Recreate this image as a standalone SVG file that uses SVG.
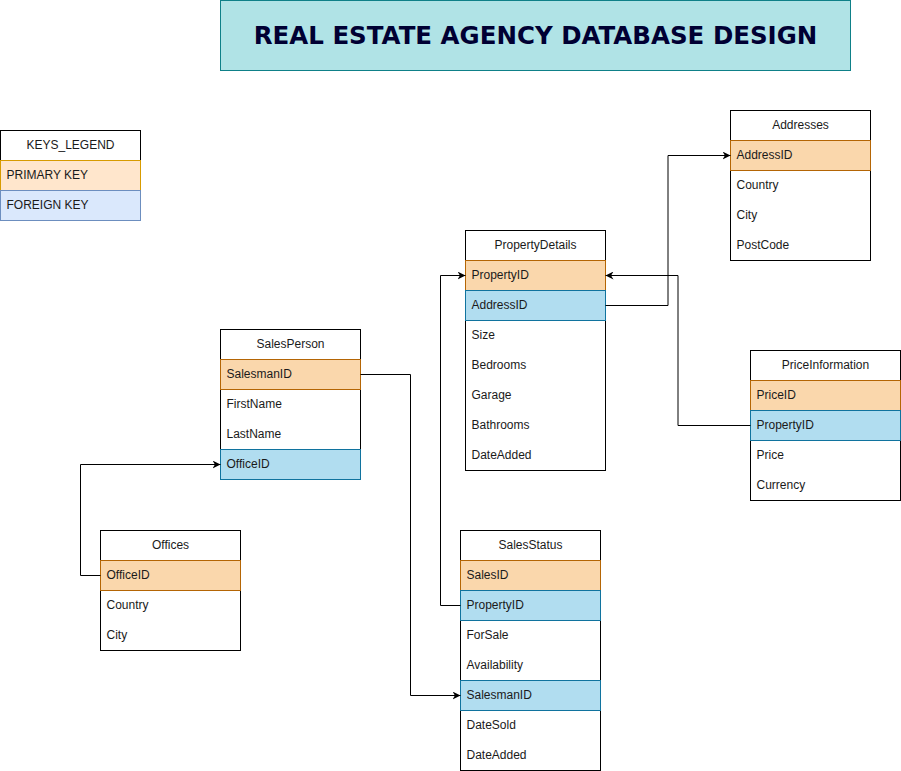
<svg xmlns="http://www.w3.org/2000/svg" width="901" height="771" viewBox="0 0 901 771">
<style>
.box{fill:#ffffff;stroke:#000000;stroke-width:1}
.pk{fill:#fad7ac;stroke:#b46504;stroke-width:1}
.fk{fill:#b1ddf0;stroke:#10739e;stroke-width:1}
.lpk{fill:#ffe6cc;stroke:#d79b00;stroke-width:1}
.lfk{fill:#dae8fc;stroke:#6c8ebf;stroke-width:1}
.hd{font-family:"Liberation Sans",Arial,sans-serif;font-size:12px;fill:#1a1a1a;text-anchor:middle}
.tx{font-family:"Liberation Sans",Arial,sans-serif;font-size:12px;fill:#1a1a1a}
.ln{fill:none;stroke:#000000;stroke-width:1}
.title{font-family:"DejaVu Sans",Verdana,sans-serif;font-size:24.5px;font-weight:bold;fill:#000033;text-anchor:middle}
</style>
<defs>
<marker id="arr" viewBox="0 0 10 10" refX="10" refY="5" markerWidth="8" markerHeight="8" markerUnits="userSpaceOnUse" orient="auto">
<path d="M0,0 L10,5 L0,10 L3,5 Z" fill="#000000"/>
</marker>
</defs>
<rect width="901" height="771" fill="#ffffff"/>

<g id="title">
<rect x="220.5" y="0.5" width="630" height="70" fill="#b0e3e6" stroke="#0e8088"/>
<text class="title" x="535.5" y="44">REAL ESTATE AGENCY DATABASE DESIGN</text>
</g>

<g id="keys_legend">
<rect class="box" x="0.5" y="130.5" width="140" height="30"/>
<text class="hd" x="70.5" y="148.5">KEYS_LEGEND</text>
<rect class="lpk" x="0.5" y="160.5" width="140" height="30"/>
<text class="tx" x="6.5" y="178.5">PRIMARY KEY</text>
<rect class="lfk" x="0.5" y="190.5" width="140" height="30"/>
<text class="tx" x="6.5" y="208.5">FOREIGN KEY</text>
</g>

<g id="addresses">
<rect class="box" x="730.5" y="110.5" width="140" height="150"/>
<text class="hd" x="800.5" y="128.5">Addresses</text>
<rect class="pk" x="730.5" y="140.5" width="140" height="30"/>
<text class="tx" x="736.5" y="158.5">AddressID</text>
<text class="tx" x="736.5" y="188.5">Country</text>
<text class="tx" x="736.5" y="218.5">City</text>
<text class="tx" x="736.5" y="248.5">PostCode</text>
</g>

<g id="propertydetails">
<rect class="box" x="465.5" y="230.5" width="140" height="240"/>
<text class="hd" x="535.5" y="248.5">PropertyDetails</text>
<rect class="pk" x="465.5" y="260.5" width="140" height="30"/>
<text class="tx" x="471.5" y="278.5">PropertyID</text>
<rect class="fk" x="465.5" y="290.5" width="140" height="30"/>
<text class="tx" x="471.5" y="308.5">AddressID</text>
<text class="tx" x="471.5" y="338.5">Size</text>
<text class="tx" x="471.5" y="368.5">Bedrooms</text>
<text class="tx" x="471.5" y="398.5">Garage</text>
<text class="tx" x="471.5" y="428.5">Bathrooms</text>
<text class="tx" x="471.5" y="458.5">DateAdded</text>
</g>

<g id="priceinformation">
<rect class="box" x="750.5" y="350.5" width="150" height="150"/>
<text class="hd" x="825.5" y="368.5">PriceInformation</text>
<rect class="pk" x="750.5" y="380.5" width="150" height="30"/>
<text class="tx" x="756.5" y="398.5">PriceID</text>
<rect class="fk" x="750.5" y="410.5" width="150" height="30"/>
<text class="tx" x="756.5" y="428.5">PropertyID</text>
<text class="tx" x="756.5" y="458.5">Price</text>
<text class="tx" x="756.5" y="488.5">Currency</text>
</g>

<g id="salesperson">
<rect class="box" x="220.5" y="329.5" width="140" height="150"/>
<text class="hd" x="290.5" y="347.5">SalesPerson</text>
<rect class="pk" x="220.5" y="359.5" width="140" height="30"/>
<text class="tx" x="226.5" y="377.5">SalesmanID</text>
<text class="tx" x="226.5" y="407.5">FirstName</text>
<text class="tx" x="226.5" y="437.5">LastName</text>
<rect class="fk" x="220.5" y="449.5" width="140" height="30"/>
<text class="tx" x="226.5" y="467.5">OfficeID</text>
</g>

<g id="offices">
<rect class="box" x="100.5" y="530.5" width="140" height="120"/>
<text class="hd" x="170.5" y="548.5">Offices</text>
<rect class="pk" x="100.5" y="560.5" width="140" height="30"/>
<text class="tx" x="106.5" y="578.5">OfficeID</text>
<text class="tx" x="106.5" y="608.5">Country</text>
<text class="tx" x="106.5" y="638.5">City</text>
</g>

<g id="salesstatus">
<rect class="box" x="460.5" y="530.5" width="140" height="240"/>
<text class="hd" x="530.5" y="548.5">SalesStatus</text>
<rect class="pk" x="460.5" y="560.5" width="140" height="30"/>
<text class="tx" x="466.5" y="578.5">SalesID</text>
<rect class="fk" x="460.5" y="590.5" width="140" height="30"/>
<text class="tx" x="466.5" y="608.5">PropertyID</text>
<text class="tx" x="466.5" y="638.5">ForSale</text>
<text class="tx" x="466.5" y="668.5">Availability</text>
<rect class="fk" x="460.5" y="680.5" width="140" height="30"/>
<text class="tx" x="466.5" y="698.5">SalesmanID</text>
<text class="tx" x="466.5" y="728.5">DateSold</text>
<text class="tx" x="466.5" y="758.5">DateAdded</text>
</g>

<g id="connectors">
<path class="ln" d="M605.5,305.5 H668 V155.5 H730.5" marker-end="url(#arr)"/>
<path class="ln" d="M750.5,425.5 H678 V275.5 H605.5" marker-end="url(#arr)"/>
<path class="ln" d="M460.5,605.5 H440.5 V275.5 H465.5" marker-end="url(#arr)"/>
<path class="ln" d="M360.5,374.5 H410.5 V695.5 H460.5" marker-end="url(#arr)"/>
<path class="ln" d="M100.5,575.5 H80.5 V464.5 H220.5" marker-end="url(#arr)"/>
</g>
</svg>
